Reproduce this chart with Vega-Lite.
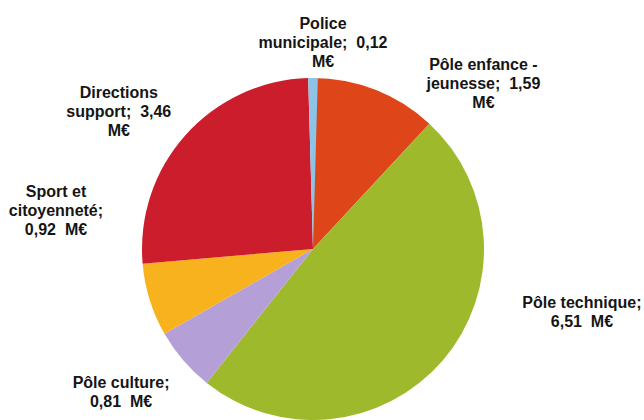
{
  "$schema": "https://vega.github.io/schema/vega-lite/v6.json",
  "width": 626,
  "height": 342,
  "padding": {"left": 0, "top": 78, "right": 18, "bottom": 0},
  "autosize": {"type": "none"},
  "background": "white",
  "config": {"view": {"stroke": null}},
  "data": {
    "values": [
      {"order": 1, "cat": "Pôle enfance - jeunesse", "value": 1.59, "label": "Pôle enfance -\njeunesse;\u00a0 1,59\nM€"},
      {"order": 2, "cat": "Pôle technique", "value": 6.51, "label": "Pôle technique;\n6,51\u00a0 M€"},
      {"order": 3, "cat": "Pôle culture", "value": 0.81, "label": "Pôle culture;\n0,81\u00a0 M€"},
      {"order": 4, "cat": "Sport et citoyenneté", "value": 0.92, "label": "Sport et\ncitoyenneté;\n0,92\u00a0 M€"},
      {"order": 5, "cat": "Directions support", "value": 3.46, "label": "Directions\nsupport;\u00a0 3,46\nM€"},
      {"order": 6, "cat": "Police municipale", "value": 0.12, "label": "Police\nmunicipale;\u00a0 0,12\nM€"}
    ]
  },
  "transform": [
    {"stack": "value", "groupby": [], "sort": [{"field": "order", "order": "ascending"}], "as": ["t0", "t1"]},
    {"calculate": "(datum.t0 + datum.t1) / 2", "as": "tm"}
  ],
  "layer": [
    {
      "mark": {"type": "arc", "outerRadius": 171},
      "encoding": {
        "theta": {"field": "t0", "type": "quantitative", "stack": null},
        "theta2": {"field": "t1"},
        "color": {
          "field": "cat",
          "type": "nominal",
          "scale": {
            "domain": ["Pôle enfance - jeunesse", "Pôle technique", "Pôle culture", "Sport et citoyenneté", "Directions support", "Police municipale"],
            "range": ["#DE4619", "#9FB92D", "#B4A0D7", "#F7B21E", "#CB1D2C", "#8CC3E6"]
          },
          "legend": null
        }
      }
    },
    {
      "transform": [{"filter": "datum.order === 1"}],
      "mark": {"type": "text", "radius": 220, "dx": 90, "dy": 21, "font": "Liberation Sans", "fontWeight": "bold", "fontSize": 16, "lineHeight": 19, "lineBreak": "\n", "align": "center", "baseline": "middle", "color": "#151515"},
      "encoding": {"theta": {"field": "tm", "type": "quantitative", "stack": null}, "text": {"field": "label"}}
    },
    {
      "transform": [{"filter": "datum.order === 2"}],
      "mark": {"type": "text", "radius": 220, "dx": 102, "dy": -89, "font": "Liberation Sans", "fontWeight": "bold", "fontSize": 16, "lineHeight": 19, "lineBreak": "\n", "align": "center", "baseline": "middle", "color": "#151515"},
      "encoding": {"theta": {"field": "tm", "type": "quantitative", "stack": null}, "text": {"field": "label"}}
    },
    {
      "transform": [{"filter": "datum.order === 3"}],
      "mark": {"type": "text", "radius": 220, "dx": -25, "dy": -9, "font": "Liberation Sans", "fontWeight": "bold", "fontSize": 16, "lineHeight": 19, "lineBreak": "\n", "align": "center", "baseline": "middle", "color": "#151515"},
      "encoding": {"theta": {"field": "tm", "type": "quantitative", "stack": null}, "text": {"field": "label"}}
    },
    {
      "transform": [{"filter": "datum.order === 4"}],
      "mark": {"type": "text", "radius": 220, "dx": -47, "dy": -123, "font": "Liberation Sans", "fontWeight": "bold", "fontSize": 16, "lineHeight": 19, "lineBreak": "\n", "align": "center", "baseline": "middle", "color": "#151515"},
      "encoding": {"theta": {"field": "tm", "type": "quantitative", "stack": null}, "text": {"field": "label"}}
    },
    {
      "transform": [{"filter": "datum.order === 5"}],
      "mark": {"type": "text", "radius": 220, "dx": -30, "dy": -10, "font": "Liberation Sans", "fontWeight": "bold", "fontSize": 16, "lineHeight": 19, "lineBreak": "\n", "align": "center", "baseline": "middle", "color": "#151515"},
      "encoding": {"theta": {"field": "tm", "type": "quantitative", "stack": null}, "text": {"field": "label"}}
    },
    {
      "transform": [{"filter": "datum.order === 6"}],
      "mark": {"type": "text", "radius": 209, "dx": 10, "dy": -16, "font": "Liberation Sans", "fontWeight": "bold", "fontSize": 16, "lineHeight": 19, "lineBreak": "\n", "align": "center", "baseline": "middle", "color": "#151515"},
      "encoding": {"theta": {"field": "tm", "type": "quantitative", "stack": null}, "text": {"field": "label"}}
    }
  ]
}
